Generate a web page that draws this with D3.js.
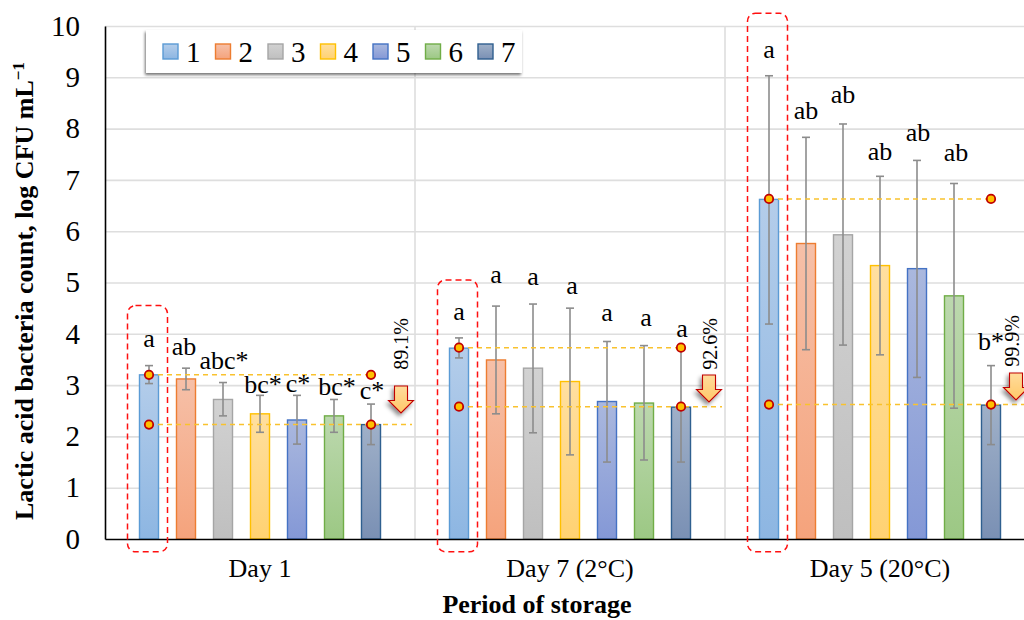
<!DOCTYPE html>
<html><head><meta charset="utf-8">
<script src="https://cdn.jsdelivr.net/npm/d3@7"></script>
<style>html,body{margin:0;padding:0;background:#fff}svg{display:block}text{font-family:"Liberation Serif",serif;fill:#000}</style>
</head><body><div id="chart"></div>
<script>
// ---- data ----
const periods = ["Day 1", "Day 7 (2°C)", "Day 5 (20°C)"];
const seriesNames = ["1","2","3","4","5","6","7"];
const yTicks = [0,1,2,3,4,5,6,7,8,9,10];
const day1Values = [3.20,3.12,2.72,2.44,2.32,2.40,2.23];
const day7Values = [3.72,3.49,3.33,3.07,2.68,2.65,2.57];
const day5Values = [6.62,5.76,5.93,5.33,5.27,4.74,2.61];
const day1High = [3.38,3.33,3.05,2.80,2.80,2.72,2.63];
const day7High = [3.92,4.54,4.58,4.50,3.85,3.77,3.74];
const day5High = [9.03,7.83,8.09,7.07,7.38,6.93,3.38];
const day1Low = [3.03,2.91,2.40,2.08,1.85,2.08,1.84];
const day7Low = [3.53,2.44,2.07,1.64,1.50,1.54,1.50];
const day5Low = [4.19,3.69,3.78,3.59,3.15,2.55,1.84];
const day1Letters = ["a","ab","abc*","bc*","c*","bc*","c*"];
const day7Letters = ["a","a","a","a","a","a","a"];
const day5Letters = ["a","ab","ab","ab","ab","ab","b*"];
const day1LetterAt = [3.74,3.58,3.31,2.85,2.87,2.81,2.72];
const day7LetterAt = [4.27,4.99,4.95,4.78,4.25,4.16,3.94];
const day5LetterAt = [9.37,8.19,8.50,7.39,7.76,7.37,3.68];
const reductions = ["89.1%","92.6%","99.9%"];
const upperLevels = [3.20,3.73,6.63];
const lowerLevels = [2.23,2.58,2.62];
const boxTops = [4.55,5.05,10.25];
const groups = [
  {v:day1Values,h:day1High,l:day1Low,t:day1Letters,a:day1LetterAt},
  {v:day7Values,h:day7High,l:day7Low,t:day7Letters,a:day7LetterAt},
  {v:day5Values,h:day5High,l:day5Low,t:day5Letters,a:day5LetterAt}];

// ---- layout & style ----
const W=1024,H=620,plotLeft=105,plotBottom=539,plotTop=26,groupW=310;
const strokes=["#5b9bd5","#ed7d31","#a5a5a5","#ffc000","#4472c4","#70ad47","#2f5f8f"];
const topFill=["#b4cdea","#f6c0a8","#d2d2d2","#ffdf9f","#aab8de","#bcd8ae","#9fb0c8"];
const botFill=["#8db6e2","#f5a37c","#bfbfbf","#ffd272","#8498d6","#9cc884","#7a90b4"];
const letterShift=[[0,-2,1,3,1,3,1],[0,0,0,2,0,2,1],[0,0,0,0,1,2,0]];

const svg=d3.select("#chart").append("svg").attr("width",W).attr("height",H).style("overflow","hidden");
const x0=d3.scaleBand().domain(periods).range([plotLeft,plotLeft+groupW*3]);
const x1=d3.scaleBand().domain(seriesNames).range([25.5,284.5]).paddingInner(0.486).paddingOuter(0.243);
const y=d3.scaleLinear().domain([0,10]).range([plotBottom,plotTop]);
const cx=(g,i)=>x0(periods[g])+x1(seriesNames[i])+x1.bandwidth()/2;

const defs=svg.append("defs");
seriesNames.forEach((s,i)=>{
  const g=defs.append("linearGradient").attr("id","bar"+i).attr("x1",0).attr("y1",0).attr("x2",0).attr("y2",1);
  g.append("stop").attr("offset","0%").attr("stop-color",topFill[i]);
  g.append("stop").attr("offset","100%").attr("stop-color",botFill[i]);
});
const ag=defs.append("linearGradient").attr("id","arrow").attr("x1",0).attr("y1",0).attr("x2",0).attr("y2",1);
ag.append("stop").attr("offset","0%").attr("stop-color","#ffdc9c");
ag.append("stop").attr("offset","100%").attr("stop-color","#ffc868");
const sh=defs.append("filter").attr("id","shadow").attr("x","-30%").attr("y","-30%").attr("width","170%").attr("height","170%");
sh.append("feDropShadow").attr("dx",-2).attr("dy",3).attr("stdDeviation",2).attr("flood-color","#000").attr("flood-opacity",0.45);
const sl=defs.append("filter").attr("id","legendShadow").attr("x","-5%").attr("y","-20%").attr("width","110%").attr("height","150%");
sl.append("feDropShadow").attr("dx",-1).attr("dy",2).attr("stdDeviation",1.5).attr("flood-color","#000").attr("flood-opacity",0.55);

// gridlines
const grid=svg.append("g").attr("class","grid")
 .attr("transform",`translate(${plotLeft},0)`)
 .call(d3.axisLeft(y).tickValues(yTicks.slice(1)).tickSize(-(W-plotLeft)).tickFormat(""));
grid.select(".domain").remove();
grid.selectAll("line").attr("stroke","#dedede").attr("stroke-width",1.6);
svg.append("g").selectAll("line").data(periods.slice(1)).join("line")
 .attr("x1",d=>x0(d)).attr("x2",d=>x0(d)).attr("y1",plotTop).attr("y2",plotBottom)
 .attr("stroke","#dedede").attr("stroke-width",1.6);

// bars
groups.forEach((g,gi)=>{
  const c=svg.append("g");
  c.selectAll("rect").data(g.v).join("rect")
   .attr("x",(d,i)=>cx(gi,i)-x1.bandwidth()/2).attr("width",x1.bandwidth())
   .attr("y",d=>y(d)).attr("height",d=>y(0)-y(d))
   .attr("fill",(d,i)=>`url(#bar${i})`).attr("stroke",(d,i)=>strokes[i]).attr("stroke-width",1.4);
});

// axes
const yAxis=svg.append("g").attr("transform",`translate(${plotLeft},0)`)
 .call(d3.axisLeft(y).tickValues(yTicks).tickSize(0).tickPadding(25));
yAxis.select(".domain").attr("stroke","#000").attr("stroke-width",1.6);
yAxis.selectAll("text").attr("font-size",29).style("font-family",'"Liberation Serif",serif').attr("fill","#000");
const xAxis=svg.append("g").attr("transform",`translate(0,${plotBottom})`)
 .call(d3.axisBottom(x0).tickSize(0).tickPadding(20));
xAxis.select(".domain").attr("stroke","#000").attr("stroke-width",1.6);
xAxis.selectAll("text").attr("font-size",26).style("font-family",'"Liberation Serif",serif').attr("fill","#000");
xAxis.selectAll(".tick").attr("transform",d=>`translate(${x0(d)+155},0)`);

// error bars
groups.forEach((g,gi)=>{
  const e=svg.append("g").attr("stroke","#8c8c8c").attr("stroke-width",1.6);
  g.v.forEach((d,i)=>{
    const c=cx(gi,i);
    e.append("line").attr("x1",c).attr("x2",c).attr("y1",y(g.h[i])).attr("y2",y(g.l[i]));
    [g.h[i],g.l[i]].forEach(v=>e.append("line").attr("x1",c-4).attr("x2",c+4).attr("y1",y(v)).attr("y2",y(v)));
  });
});

// dashed reference lines and markers
periods.forEach((p,gi)=>{
  const a=cx(gi,0),b=cx(gi,6);
  svg.append("line").attr("x1",a).attr("x2",b).attr("y1",y(upperLevels[gi])).attr("y2",y(upperLevels[gi]))
    .attr("stroke","#f9c22e").attr("stroke-width",1.5).attr("stroke-dasharray","5 4");
  svg.append("line").attr("x1",a).attr("x2",x0(p)+307).attr("y1",y(lowerLevels[gi])).attr("y2",y(lowerLevels[gi]))
    .attr("stroke","#f9c22e").attr("stroke-width",1.5).attr("stroke-dasharray","5 4");
  [[a,upperLevels[gi]],[b,upperLevels[gi]],[a,lowerLevels[gi]],[b,lowerLevels[gi]]].forEach(q=>{
    svg.append("circle").attr("cx",q[0]).attr("cy",y(q[1])).attr("r",4.2)
      .attr("fill","#ffc000").attr("stroke","#c00000").attr("stroke-width",1.8);
  });
  // dashed outline around series 1
  svg.append("rect").attr("x",a-21.5).attr("width",40).attr("y",y(boxTops[gi])).attr("height",y(-0.25)-y(boxTops[gi]))
    .attr("rx",8).attr("fill","none").attr("stroke","#ff1010").attr("stroke-width",1.5).attr("stroke-dasharray","6 4");
  // reduction arrow
  const ax=x0(p)+[296,294,291][gi];
  const ayTop=[386,375,373][gi];
  svg.append("path").attr("transform",`translate(${ax},${ayTop})`)
    .attr("d","M-6.5,0H6.5V14.5H12.5L0,27L-12.5,14.5H-6.5Z")
    .attr("fill","url(#arrow)").attr("stroke","#c00000").attr("stroke-width",1.1).attr("filter","url(#shadow)");
  // reduction text
  svg.append("text").attr("transform",`translate(${ax+[7,8,3][gi]},${[344,344,341][gi]}) rotate(-90)`)
    .attr("text-anchor","middle").attr("font-size",20).text(reductions[gi]);
});

// significance letters
groups.forEach((g,gi)=>{
  svg.append("g").selectAll("text").data(g.t).join("text")
   .attr("x",(d,i)=>cx(gi,i)+letterShift[gi][i]).attr("y",(d,i)=>y(g.a[i]))
   .attr("text-anchor","middle").attr("font-size",26).text(d=>d);
});

// legend
svg.append("rect").attr("x",146).attr("y",30).attr("width",376).attr("height",43).attr("fill","#fff").attr("filter","url(#legendShadow)");
const lx=d3.scalePoint().domain(seriesNames).range([163,478]);
const lg=svg.append("g").selectAll("g").data(seriesNames).join("g").attr("transform",d=>`translate(${lx(d)},44)`);
lg.append("rect").attr("width",15).attr("height",15).attr("fill",(d,i)=>`url(#bar${i})`).attr("stroke",(d,i)=>strokes[i]).attr("stroke-width",1.4);
lg.append("text").attr("x",23).attr("y",17.5).attr("font-size",29).text(d=>d);

// axis titles
svg.append("text").attr("x",537).attr("y",613).attr("text-anchor","middle").attr("font-size",26).attr("font-weight","bold").text("Period of storage");
const yt=svg.append("text").attr("transform","translate(33,291) rotate(-90)").attr("text-anchor","middle").attr("font-size",26).attr("font-weight","bold");
yt.append("tspan").text("Lactic acid bacteria count, log CFU mL");
yt.append("tspan").attr("dy",-9).attr("font-size",17).text("−1");
</script></body></html>
